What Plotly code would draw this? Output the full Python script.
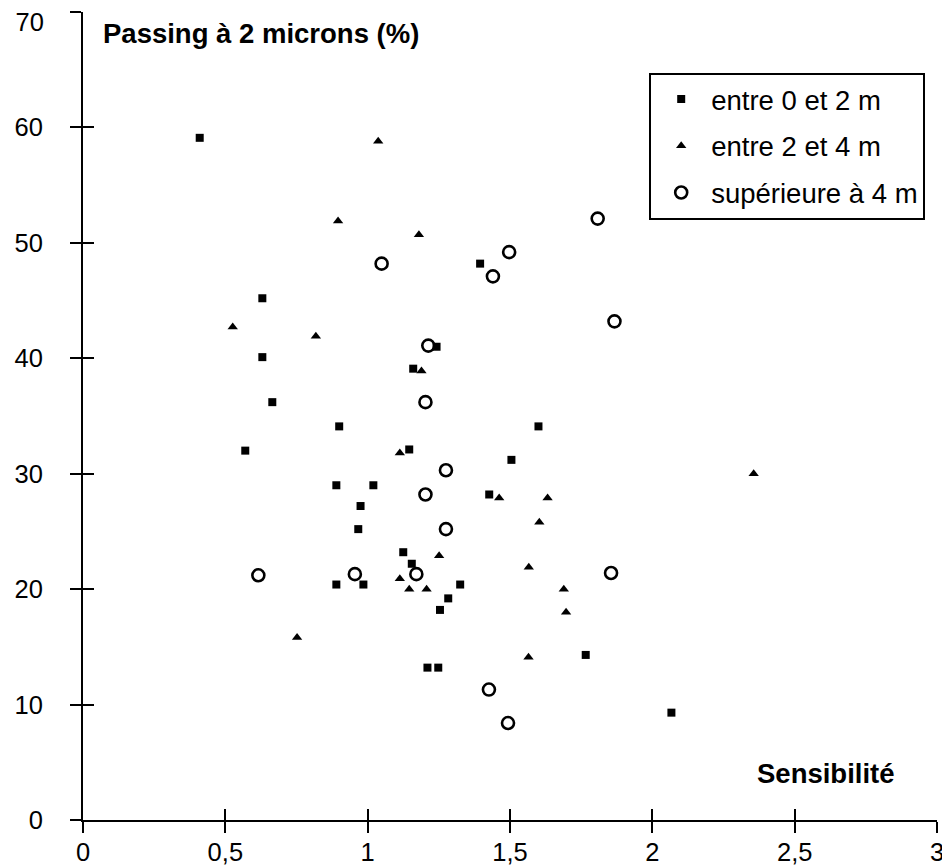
import plotly.graph_objects as go

# ---- data ----
sq_x = [0.41, 0.63, 0.63, 0.665, 0.57, 0.90, 0.89, 1.02, 0.975, 0.967, 1.125, 1.155, 0.89, 0.985,
        1.325, 1.283, 1.254, 1.21, 1.248, 1.395, 1.242, 1.16, 1.146, 1.60, 1.505, 1.427, 1.766, 2.067]
sq_y = [59.1, 45.2, 40.1, 36.2, 32.0, 34.1, 29.0, 29.0, 27.2, 25.2, 23.2, 22.2, 20.4, 20.4,
        20.4, 19.2, 18.2, 13.2, 13.2, 48.2, 41.0, 39.1, 32.1, 34.1, 31.2, 28.2, 14.3, 9.3]

tri_x = [1.037, 0.896, 1.18, 0.526, 0.818, 1.189, 1.113, 1.462, 1.632, 1.603, 1.251, 1.566,
         1.113, 1.146, 1.207, 1.689, 1.697, 0.752, 1.565, 2.356]
tri_y = [58.8, 51.9, 50.7, 42.7, 41.9, 38.9, 31.8, 27.9, 27.9, 25.8, 22.9, 21.9,
         20.9, 20.0, 20.0, 20.0, 18.0, 15.8, 14.1, 30.0]

circ_x = [1.049, 1.44, 1.497, 1.808, 1.867, 1.213, 1.203, 1.275, 1.203, 1.275, 0.616, 0.955,
          1.171, 1.855, 1.426, 1.493]
circ_y = [48.2, 47.1, 49.2, 52.1, 43.2, 41.1, 36.2, 30.3, 28.2, 25.2, 21.2, 21.3,
          21.3, 21.4, 11.3, 8.4]

series_names = ["entre 0 et 2 m", "entre 2 et 4 m", "supérieure à 4 m"]
x_title = "Sensibilité"
y_title = "Passing à 2 microns (%)"
x_ticks = [0, 0.5, 1, 1.5, 2, 2.5, 3]
y_ticks = [0, 10, 20, 30, 40, 50, 60, 70]

FONT = "Liberation Sans, Arial, Helvetica, sans-serif"
Y_MAX = y_ticks[-1]

fig = go.Figure()
fig.add_trace(go.Scatter(x=sq_x, y=sq_y, mode="markers", name=series_names[0],
                         legendgroup="a",
                         marker=dict(symbol="square", size=8, color="black")))
# triangles on a twin y axis (same range) that carries the top tick label, nudged down
fig.add_trace(go.Scatter(x=tri_x, y=tri_y, mode="markers", name=series_names[1],
                         legendgroup="b", yaxis="y3",
                         marker=dict(symbol="triangle-up", size=9, color="black")))
# circles drawn on the overlay axes (identical ranges) so that the inner tick halves render
fig.add_trace(go.Scatter(x=circ_x, y=circ_y, mode="markers", name=series_names[2],
                         legendgroup="c", xaxis="x2", yaxis="y2",
                         marker=dict(symbol="circle-open", size=12, color="black",
                                     line=dict(width=2.6, color="black"))))

tickfont = dict(family=FONT, size=25.5, color="black")
axis_common = dict(showgrid=False, zeroline=False, ticks="outside", ticklen=11,
                   tickwidth=2, tickcolor="black", linecolor="black", linewidth=2,
                   showline=True, automargin=False, ticklabeloverflow="allow",
                   tickfont=tickfont)
overlay_common = dict(showgrid=False, zeroline=False, ticks="inside", ticklen=11,
                      tickwidth=2, tickcolor="black", showticklabels=False,
                      showline=False, automargin=False)

y_text = [str(v) if v != Y_MAX else "" for v in y_ticks]

# the page body has an 8 px default margin, so the figure is 8 px smaller
fig.update_layout(
    width=942, height=859,
    margin=dict(l=75, r=13, t=4, b=47),
    paper_bgcolor="white", plot_bgcolor="white",
    separators=", ",
    font=dict(family=FONT, color="black"),
    xaxis=dict(range=[0, 3], tickvals=x_ticks, ticklabelstandoff=-3, **axis_common),
    yaxis=dict(range=[0, Y_MAX], tickvals=y_ticks, ticktext=y_text,
               ticklabelstandoff=22, **axis_common),
    xaxis2=dict(range=[0, 3], tickvals=x_ticks, overlaying="x", anchor="y2", **overlay_common),
    yaxis2=dict(range=[0, Y_MAX], tickvals=y_ticks, overlaying="y", anchor="x2", **overlay_common),
    yaxis3=dict(range=[0, Y_MAX], tickvals=[Y_MAX], ticktext=[str(Y_MAX)], overlaying="y",
                anchor="x", showgrid=False, zeroline=False, showline=False,
                ticks="outside", ticklen=11, tickwidth=2, tickcolor="rgba(0,0,0,0)",
                automargin=False, ticklabeloverflow="allow", ticklabelstandoff=22,
                ticklabelshift=10, tickfont=tickfont),
    showlegend=True,
    legend=dict(x=0.663, y=0.925, xanchor="left", yanchor="top",
                bordercolor="black", borderwidth=2, bgcolor="white",
                font=dict(family=FONT, size=27.5, color="black"),
                tracegroupgap=8, itemwidth=50),
)

fig.add_annotation(text="<b>" + y_title + "</b>", xref="paper", yref="paper",
                   x=0.021, y=0.995, xanchor="left", yanchor="top", showarrow=False,
                   font=dict(family=FONT, size=27.5, color="black"))
fig.add_annotation(text="<b>" + x_title + "</b>", xref="paper", yref="paper",
                   x=0.953, y=0.058, xanchor="right", yanchor="middle", showarrow=False,
                   font=dict(family=FONT, size=27.5, color="black"))

fig.write_html("out.html")
